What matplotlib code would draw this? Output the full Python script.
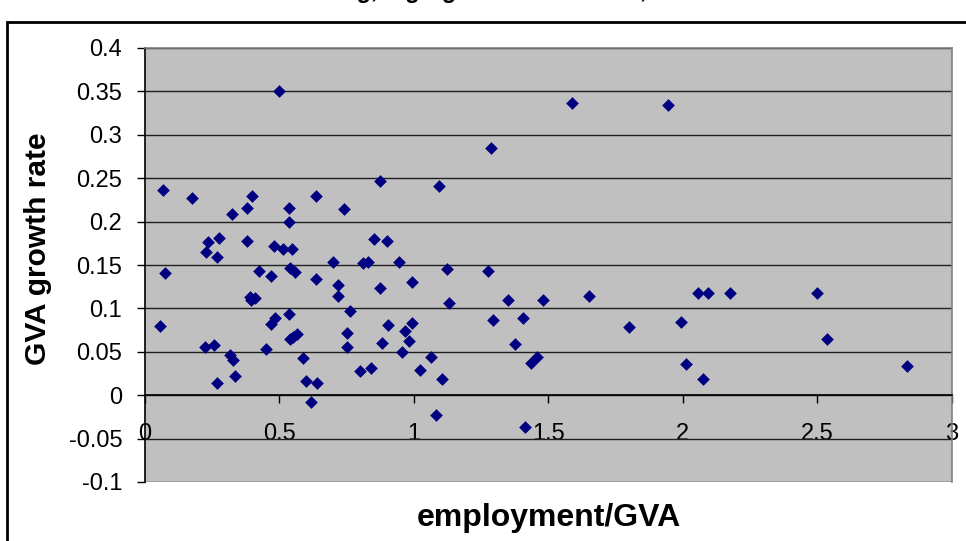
import numpy as np
import matplotlib.pyplot as plt
from matplotlib.patches import Rectangle

plt.rcParams['font.family'] = ['Liberation Sans', 'DejaVu Sans']

# employment/GVA ratio (x) and GVA growth rate (y)
emp_gva = [0.500, 1.287, 0.070, 0.176, 0.324, 0.381, 0.401, 0.536, 0.536, 0.636,
           0.741, 0.876, 1.094, 1.588, 1.946, 0.235, 0.276, 0.230, 0.271, 0.381,
           0.481, 0.516, 0.548, 0.078, 0.424, 0.471, 0.541, 0.559, 0.636, 0.699,
           0.718, 0.718, 0.854, 0.900, 0.811, 0.832, 0.947, 0.994, 0.876, 1.123,
           1.275, 1.130, 1.351, 1.482, 0.392, 0.411, 0.395, 0.059, 0.764, 0.536,
           0.483, 0.470, 0.906, 0.995, 0.969, 1.295, 1.406, 0.753, 0.567, 0.541,
           0.552, 0.883, 0.982, 1.378, 0.223, 0.260, 0.453, 0.753, 0.958, 0.316,
           0.330, 0.588, 1.065, 1.458, 1.435, 0.800, 0.842, 1.024, 0.337, 0.271,
           0.599, 0.641, 1.105, 0.618, 1.082, 1.414, 1.653, 2.058, 2.095, 2.176,
           2.500, 1.799, 1.994, 2.534, 2.011, 2.075, 2.834]
gva_growth = [0.351, 0.285, 0.236, 0.227, 0.209, 0.216, 0.229, 0.216, 0.200, 0.229,
              0.214, 0.247, 0.2415, 0.3366, 0.334, 0.176, 0.1815, 0.165, 0.159, 0.178,
              0.172, 0.168, 0.168, 0.141, 0.143, 0.137, 0.147, 0.142, 0.134, 0.154,
              0.1266, 0.114, 0.1796, 0.178, 0.152, 0.154, 0.154, 0.130, 0.123, 0.145,
              0.143, 0.1065, 0.110, 0.110, 0.1135, 0.112, 0.1096, 0.0796, 0.097, 0.0935,
              0.0885, 0.0823, 0.0808, 0.0827, 0.0738, 0.0865, 0.0885, 0.0719, 0.070, 0.0642,
              0.0666, 0.0604, 0.0623, 0.0588, 0.0554, 0.0573, 0.0535, 0.0554, 0.0496, 0.0458,
              0.0408, 0.0423, 0.0442, 0.0442, 0.0369, 0.0277, 0.0315, 0.0296, 0.0223, 0.0135,
              0.0169, 0.0135, 0.0188, -0.0084, -0.023, -0.0365, 0.114, 0.1173, 0.1173, 0.1173,
              0.1173, 0.0789, 0.0842, 0.0646, 0.0354, 0.0185, 0.0335]

x_ticks = [0, 0.5, 1, 1.5, 2, 2.5, 3]
x_tick_labels = ['0', '0.5', '1', '1.5', '2', '2.5', '3']
y_ticks = [-0.1, -0.05, 0, 0.05, 0.1, 0.15, 0.2, 0.25, 0.3, 0.35, 0.4]
y_tick_labels = ['-0.1', '-0.05', '0', '0.05', '0.1', '0.15', '0.2', '0.25', '0.3', '0.35', '0.4']

fig = plt.figure(figsize=(9.66, 5.41), dpi=100)
ax = fig.add_axes([144.5 / 966, 59 / 541, 807.5 / 966, 434 / 541])
ax.set_facecolor('#c0c0c0')

ax.scatter(emp_gva, gva_growth, marker='D', s=42, color='#000080', linewidths=0, zorder=3)

ax.set_xlim(0, 3)
ax.set_ylim(-0.1, 0.4)
ax.set_xticks(x_ticks)
ax.set_xticklabels(x_tick_labels)
ax.set_yticks(y_ticks)
ax.set_yticklabels(y_tick_labels)
ax.yaxis.grid(True, color='#202020', linewidth=1.0)
ax.set_axisbelow(True)

# x axis crosses at y = 0, like the Excel original
ax.spines['bottom'].set_position(('data', 0))
ax.spines['bottom'].set_color('black')
ax.spines['left'].set_color('black')
ax.spines['top'].set_color('#808080')
ax.spines['right'].set_color('#808080')
for s in ax.spines.values():
    s.set_linewidth(1.2)

ax.tick_params(axis='x', direction='out', length=6, width=1, pad=14, labelsize=17)
ax.tick_params(axis='y', direction='out', length=6, width=1, pad=10, labelsize=17)

fig.text(38 / 966, 1 - 249 / 541, 'GVA growth rate', rotation=90, ha='center', va='center',
         fontsize=21.5, fontweight='bold')
fig.text(549 / 966, 1 - 518 / 541, 'employment/GVA', ha='center', va='center',
         fontsize=23, fontweight='bold')

# title is cut off at the top of the picture, as in the original
fig.text(503 / 966, 1 + 2 / 541, 'Manufacturing, high-growth industries, 1995 to 2005',
         ha='center', va='baseline', fontsize=17, fontweight='bold', fontstyle='italic')

fig.patches.append(Rectangle((7 / 966, -0.1), 1.2, 1.1 - 22 / 541, transform=fig.transFigure,
                             fill=False, edgecolor='black', linewidth=2))

plt.savefig('out.png')
